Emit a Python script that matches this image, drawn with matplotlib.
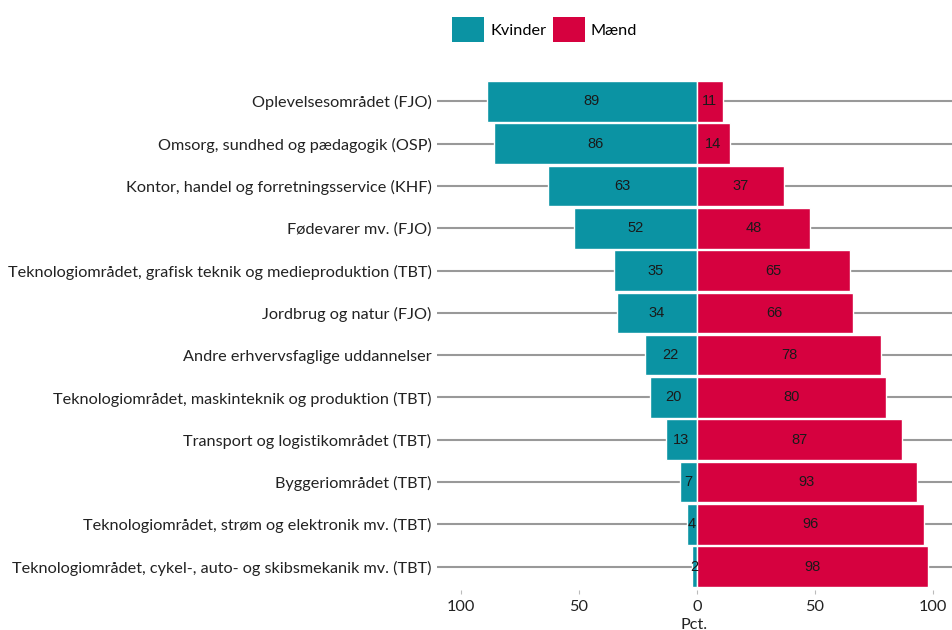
import numpy as np
import matplotlib.pyplot as plt
from matplotlib.patches import Patch

# Andel kvinder/mænd pr. uddannelsesområde (pct.)
categories = [
    "Oplevelsesområdet (FJO)",
    "Omsorg, sundhed og pædagogik (OSP)",
    "Kontor, handel og forretningsservice (KHF)",
    "Fødevarer mv. (FJO)",
    "Teknologiområdet, grafisk teknik og medieproduktion (TBT)",
    "Jordbrug og natur (FJO)",
    "Andre erhvervsfaglige uddannelser",
    "Teknologiområdet, maskinteknik og produktion (TBT)",
    "Transport og logistikområdet (TBT)",
    "Byggeriområdet (TBT)",
    "Teknologiområdet, strøm og elektronik mv. (TBT)",
    "Teknologiområdet, cykel-, auto- og skibsmekanik mv. (TBT)",
]
kvinder = [89, 86, 63, 52, 35, 34, 22, 20, 13, 7, 4, 2]
maend = [11, 14, 37, 48, 65, 66, 78, 80, 87, 93, 96, 98]
xticks = [-100, -50, 0, 50, 100]
xticklabels = ["100", "50", "0", "50", "100"]

TEAL = "#0b93a3"
RED = "#d6013f"

plt.rcParams['font.family'] = ['Lato', 'DejaVu Sans']

fig = plt.figure(figsize=(9.52, 6.3), dpi=100)
ax = fig.add_axes([0.459, 0.0635, 0.541, 0.81])

n = len(categories)
y = np.arange(n)[::-1]

for yi in y:
    ax.axhline(yi, color="#999999", lw=1.5, zorder=0)

ax.barh(y, [-v for v in kvinder], height=0.96, color=TEAL,
        edgecolor="white", lw=1, zorder=2)
ax.barh(y, maend, height=0.96, color=RED, edgecolor="white", lw=1, zorder=2)

for yi, k, m in zip(y, kvinder, maend):
    ax.text(-k / 2, yi, str(k), ha="center", va="center", fontsize=10.5,
            color="#1a1a1a", family="Liberation Sans", zorder=3)
    ax.text(m / 2, yi, str(m), ha="center", va="center", fontsize=10.5,
            color="#1a1a1a", family="Liberation Sans", zorder=3)

ax.set_xlim(-110, 108)
ax.set_ylim(-0.55, n - 0.49)
ax.set_yticks(y)
ax.set_yticklabels(categories, fontsize=11.7, color="#222222")
ax.set_xticks(xticks)
ax.set_xticklabels(xticklabels, fontsize=11.7, color="#222222")
ax.tick_params(axis="y", length=0, pad=4)
ax.tick_params(axis="x", length=3, color="#bbbbbb", pad=4)
ax.set_xlabel("Pct.", fontsize=11.7, color="#222222", labelpad=3)
for s in ax.spines.values():
    s.set_visible(False)

handles = [Patch(facecolor=TEAL, label="Kvinder"),
           Patch(facecolor=RED, label="Mænd")]
fig.legend(handles=handles, loc="center", bbox_to_anchor=(0.572, 0.953),
           ncol=2, frameon=False, fontsize=11.7, handlelength=2.0,
           handleheight=2.0, handletextpad=0.35, columnspacing=0.4)

fig.savefig("out.png", dpi=100)
